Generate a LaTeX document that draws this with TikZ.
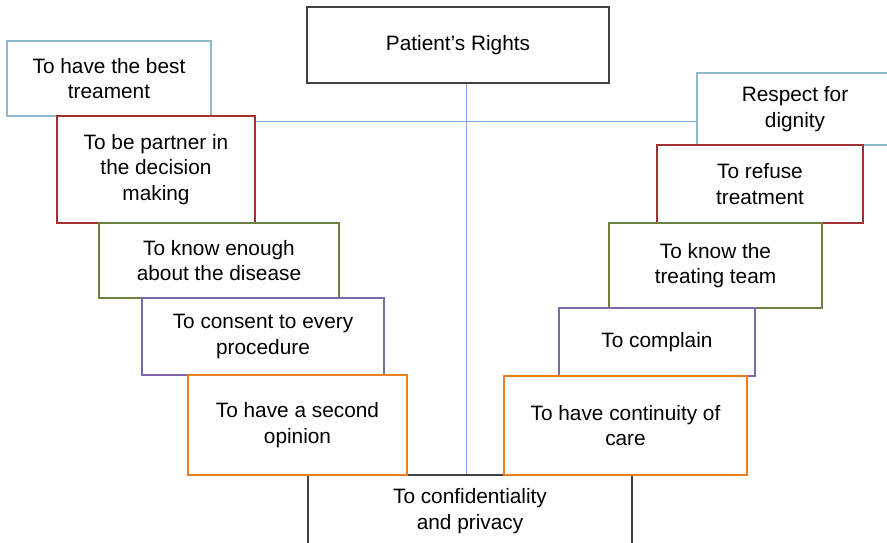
\documentclass[tikz,border=0pt]{standalone}
\usepackage{fontspec}
\setmainfont{Liberation Sans}
\usepackage{tikz}
\usetikzlibrary{arrows}

\definecolor{boxblue}{HTML}{8FB8CC}
\definecolor{boxred}{HTML}{A03232}
\definecolor{boxolive}{HTML}{6E8040}
\definecolor{boxpurple}{HTML}{8068A8}
\definecolor{boxorange}{HTML}{E8801E}
\definecolor{boxgray}{HTML}{404040}
\definecolor{linkblue}{HTML}{80A8E0}

\begin{document}
\begin{tikzpicture}[x=0.025cm,y=-0.025cm,line width=0.8pt,
  right box/.style={rectangle,fill=white,draw,align=center,inner sep=0pt,
        font=\fontsize{14.8}{18}\selectfont},
        link/.style={draw=linkblue,line width=0.7pt}]
  \clip (0,0) rectangle (887,543);

  \node[right box,draw=boxgray,minimum width=302*0.025cm,minimum height=76*0.025cm] (rights) at (458,45) {Patient's Rights};
  \node[right box,draw=boxgray,minimum width=324*0.025cm,minimum height=72*0.025cm] (privacy) at (470,511) {To confidentiality\\and privacy};

  % links behind the boxes
  \coordinate (hline) at (0,121);
  \coordinate (vline) at (466,0);
  \path[link] (rights.south -| vline) edge (privacy.north -| vline);

  % left stairs
  \node[right box,draw=boxblue,minimum width=204*0.025cm,minimum height=75*0.025cm] (best) at (109,78.5) {To have the best\\treament};
  \node[right box,draw=boxred,minimum width=198*0.025cm,minimum height=107*0.025cm] (partner) at (156,169.5) {To be partner in\\the decision\\making};
  \node[right box,draw=boxolive,minimum width=240*0.025cm,minimum height=75*0.025cm] (enough) at (219,260.5) {To know enough\\about the disease};
  \node[right box,draw=boxpurple,minimum width=242*0.025cm,minimum height=77*0.025cm] (consent) at (263,336.5) {To consent to every\\procedure};
  \node[right box,draw=boxorange,minimum width=219*0.025cm,minimum height=100*0.025cm] (second) at (297.5,425) {To have a second\\opinion};

  % right stairs
  \node[right box,draw=boxblue,minimum width=196*0.025cm,minimum height=72*0.025cm] (dignity) at (795,109) {Respect for\\dignity};
  \node[right box,draw=boxred,minimum width=206*0.025cm,minimum height=78*0.025cm] (refuse) at (760,184) {To refuse\\treatment};
  \node[right box,draw=boxolive,minimum width=213*0.025cm,minimum height=85*0.025cm] (team) at (715.5,265.5) {To know the\\treating team};
  \node[right box,draw=boxpurple,minimum width=196*0.025cm,minimum height=68*0.025cm] (complain) at (657,342) {To complain};
  \node[right box,draw=boxorange,minimum width=243*0.025cm,minimum height=99*0.025cm] (continuity) at (625.5,425.5) {To have continuity of\\care};

  \path[link] (partner.east |- hline) edge (dignity.west |- hline);
\end{tikzpicture}
\end{document}
